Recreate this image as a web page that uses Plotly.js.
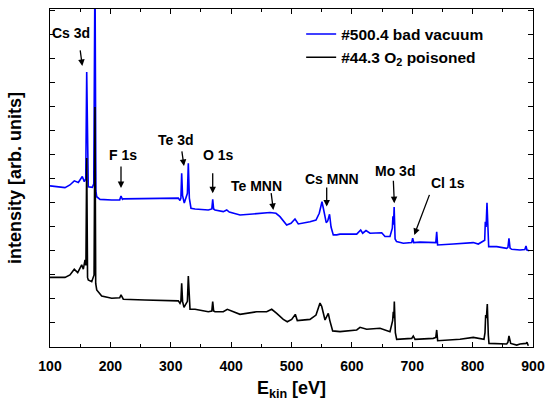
<!DOCTYPE html>
<html>
<head>
<meta charset="utf-8">
<script src="https://cdn.plot.ly/plotly-3.0.1.min.js"></script>
<style>
  html, body { margin: 0; padding: 0; background: #ffffff; }
  #chart { width: 545px; height: 403px; }
</style>
</head>
<body>
<div id="chart"></div>
<script>
// XPS survey spectra: kinetic energy (eV) vs. intensity (arbitrary units, offset)

// #500.4 bad vacuum
const energyVacuum = [100, 124.8, 133, 140.2, 146.9, 153.5, 156.8, 159.2, 160.8, 162.4, 163.4, 170.1, 172.5, 174.5, 176.0, 177.4, 182.8, 202.2, 215.5, 217.6, 220, 221.4, 257.3, 312.5, 315.3, 316.8, 318.1, 319.6, 322.4, 327.6, 329.1, 330.8, 333.5, 340.2, 362.2, 368, 369.5, 371, 373.3, 387.0, 392.7, 397, 414.7, 442.4, 464.4, 474.3, 480.9, 492.0, 499.2, 505.8, 511.3, 530.6, 540.6, 546.0, 550.5, 553, 557.5, 560, 563.0, 565.5, 569.2, 574.9, 580.3, 608.0, 614.6, 617.9, 623.4, 630.0, 649.4, 654.9, 663.1, 667.0, 668.0, 669.0, 670.0, 671.6, 674, 685.2, 699.1, 700.7, 702.5, 712.8, 729.4, 734.9, 739, 740.5, 742.0, 768.0, 801.1, 809.4, 817.7, 820.0, 821.0, 822.3, 823.8, 825.2, 826.6, 839.9, 856.4, 858.5, 860.2, 862, 864.7, 878.5, 886.5, 888.4, 890.0, 893.9];
const intensityVacuum = [6.71, 6.64, 6.75, 6.92, 6.85, 7.10, 6.89, 7.0, 11.46, 6.8, 6.67, 6.65, 6.8, 16, 6.5, 6.26, 6.15, 6.125, 6.13, 6.29, 6.15, 6.17, 6.18, 6.20, 6.10, 6.2, 7.24, 6.3, 6.0, 6.4, 7.65, 6.2, 5.78, 5.75, 5.71, 5.75, 6.15, 5.75, 5.71, 5.64, 5.71, 5.62, 5.5, 5.57, 5.60, 5.57, 5.43, 5.08, 5.15, 5.33, 5.125, 5.22, 5.29, 5.57, 6.05, 5.75, 5.18, 5.25, 5.53, 5.0, 4.67, 4.67, 4.70, 4.70, 4.875, 4.74, 4.85, 4.74, 4.76, 4.60, 4.60, 4.95, 5.45, 5.1, 5.83, 4.5, 4.39, 4.32, 4.35, 4.53, 4.35, 4.37, 4.35, 4.35, 4.35, 4.80, 4.25, 4.29, 4.35, 4.29, 4.39, 4.45, 5.22, 5.0, 6.01, 5.0, 4.18, 4.18, 4.11, 4.15, 4.53, 4.12, 4.07, 4.04, 4.06, 4.21, 4.04, 4.01];

// #44.3 O2 poisoned
const energyPoisoned = [100, 124.8, 133.1, 140.2, 145.9, 152.5, 155.2, 158.0, 159.5, 160.8, 162.2, 163.4, 169.1, 171.7, 173, 174.5, 175.7, 177.4, 185.6, 202.2, 215.5, 217.6, 220, 221.4, 257.3, 312.5, 315.3, 316.8, 318.1, 319.6, 321.9, 327.6, 329.1, 330.8, 331.9, 340.2, 362.2, 368, 369.5, 371, 373.3, 387.0, 393.7, 414.7, 442.4, 458.9, 467.2, 475.5, 486.4, 493.0, 500.3, 506.3, 509.6, 530.6, 540.6, 547.2, 550, 555.5, 560.9, 563.5, 568.2, 580.3, 608.0, 613.5, 624.5, 646.6, 663.1, 667.5, 668.6, 669.5, 670.3, 672, 674.2, 699.1, 701.7, 704.6, 734.9, 739, 740.5, 742.1, 779.1, 801.1, 818.8, 820.5, 821.6, 822.8, 824.3, 826, 827.1, 856.4, 858.5, 860.2, 863.1, 873.0, 878.5, 888.4, 890, 892.2];
const intensityPoisoned = [2.90, 2.90, 3.00, 3.24, 3.10, 3.42, 3.24, 3.625, 3.4, 7.875, 2.9, 2.79, 2.72, 2.86, 3.0, 10.0, 2.65, 2.375, 2.125, 2.03, 2.05, 2.17, 2.0, 1.99, 1.96, 1.92, 1.82, 1.9, 2.65, 1.9, 1.65, 1.9, 2.96, 1.8, 1.57, 1.57, 1.47, 1.5, 1.89, 1.5, 1.47, 1.47, 1.57, 1.36, 1.47, 1.47, 1.57, 1.40, 1.15, 1.05, 1.15, 1.36, 1.10, 1.15, 1.33, 1.83, 1.7, 1.125, 1.40, 1.1, 0.67, 0.64, 0.71, 0.82, 0.74, 0.78, 0.64, 1.10, 1.47, 1.2, 1.89, 0.6, 0.32, 0.36, 0.46, 0.32, 0.36, 0.4, 0.71, 0.26, 0.32, 0.40, 0.32, 0.6, 1.33, 1.2, 1.79, 0.5, 0.15, 0.125, 0.2, 0.46, 0.15, 0.08, 0.125, 0.15, 0.2, 0.05];

// Peak assignments
const peakNames = ['Cs 3d', 'F 1s', 'Te 3d', 'O 1s', 'Te MNN', 'Cs MNN', 'Mo 3d', 'Cl 1s'];
const peakEnergies = [153.5, 217.6, 321.9, 369.5, 469.9, 558.3, 670.3, 703.4];
const peakIntensities = [11.71, 6.625, 7.54, 6.40, 5.71, 5.85, 5.99, 4.67];

// Label placement (text centre, arrow tail) in axis units
const labelPos = [[135.6, 13.08], [221.7, 8.0], [308.7, 8.625], [378.3, 8.0], [442.4, 6.71], [567.1, 7.0], [671.4, 7.33], [758.4, 6.82]];
const arrowTail = [[149.7, 12.42], [217.6, 7.58], [318.1, 8.21], [369.5, 7.30], [466.0, 6.47], [558.3, 6.71], [668.6, 6.99], [729.4, 6.40]];

const FONT = 'Arial, "Liberation Sans", sans-serif';

const traces = [
  {
    x: energyVacuum, y: intensityVacuum, type: 'scatter', mode: 'lines',
    name: '#500.4 bad vacuum',
    line: { color: '#0000ff', width: 1.6 }
  },
  {
    x: energyPoisoned, y: intensityPoisoned, type: 'scatter', mode: 'lines',
    name: '#44.3 O<sub>2</sub> poisoned',
    line: { color: '#000000', width: 1.6 }
  }
];

const annotations = [];
peakNames.forEach((name, i) => {
  annotations.push({
    x: labelPos[i][0], y: labelPos[i][1], xref: 'x', yref: 'y',
    text: name, showarrow: false,
    font: { family: FONT, size: 14, weight: 'bold', color: '#000' }
  });
  annotations.push({
    x: peakEnergies[i], y: peakIntensities[i], xref: 'x', yref: 'y',
    ax: arrowTail[i][0], ay: arrowTail[i][1], axref: 'x', ayref: 'y',
    text: '', showarrow: true,
    arrowhead: 2, arrowsize: 1, arrowwidth: 1.3, arrowcolor: '#000'
  });
});

const yTicks = [];
for (let k = 0; k <= 14; k++) yTicks.push(k);

const layout = {
  width: 545, height: 403,
  margin: { l: 50, r: 12, t: 9, b: 56 },
  paper_bgcolor: '#fff', plot_bgcolor: '#fff',
  showlegend: true,
  legend: {
    x: 0.52, xanchor: 'left', y: 0.975, yanchor: 'top',
    bgcolor: 'rgba(0,0,0,0)', borderwidth: 0,
    font: { family: FONT, size: 15.5, weight: 'bold', color: '#000' }
  },
  xaxis: {
    range: [100, 900], tick0: 100, dtick: 100,
    ticks: 'inside', ticklen: 5, tickwidth: 1, tickcolor: '#000',
    minor: { dtick: 50, ticks: 'inside', ticklen: 3, tickcolor: '#000' },
    ticklabelstandoff: 6,
    showline: true, linecolor: '#000', linewidth: 1.3, mirror: 'ticks',
    showgrid: false, zeroline: false,
    tickfont: { family: FONT, size: 14, weight: 'bold', color: '#000' },
    title: { text: 'E<sub>kin</sub> [eV]', font: { family: FONT, size: 18, weight: 'bold', color: '#000' }, standoff: 8 }
  },
  yaxis: {
    range: [0, 14.08], tickvals: yTicks, showticklabels: false,
    ticks: 'inside', ticklen: 5, tickwidth: 1, tickcolor: '#000',
    showline: true, linecolor: '#000', linewidth: 1.3, mirror: 'ticks',
    showgrid: false, zeroline: false,
    title: { text: 'intensity [arb. units]', font: { family: FONT, size: 18, weight: 'bold', color: '#000' }, standoff: 22 }
  },
  annotations: annotations
};

Plotly.newPlot('chart', traces, layout, { displayModeBar: false, staticPlot: true });
</script>
</body>
</html>
